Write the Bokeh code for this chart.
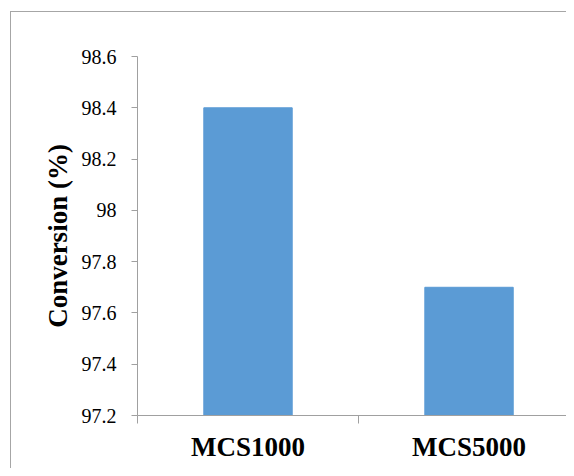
from bokeh.plotting import figure
from bokeh.models import Range1d, FixedTicker, LinearAxis, Label
from bokeh.embed import file_html
from bokeh.resources import INLINE

title_text = "CPS molecular weight"
categories = ["MCS1000", "MCS5000"]
conversion = [98.4, 97.7]
y_ticks = [97.2, 97.4, 97.6, 97.8, 98.0, 98.2, 98.4, 98.6]
y_tick_labels = ["97.2", "97.4", "97.6", "97.8", "98", "98.2", "98.4", "98.6"]

axis_color = "#a0a0a0"
bar_color = "#5B9BD5"
font = "Liberation Serif"

p = figure(width=566, height=468, output_backend="svg", toolbar_location=None,
           x_range=Range1d(0, 1.941), y_range=Range1d(y_ticks[0], y_ticks[-1]),
           min_border_left=137, min_border_top=56, min_border_bottom=53,
           min_border_right=0, x_axis_type=None, y_axis_type=None)
p.outline_line_color = None
p.background_fill_color = "white"
p.border_fill_color = "white"
p.xgrid.visible = False
p.ygrid.visible = False
p.styles = {"position": "relative"}
p.stylesheets = [
    ":host::before { content: ''; position: absolute; left: 10px; top: 11px; "
    "right: 0px; height: 1px; background: #a6a6a6; "
    "pointer-events: none; z-index: 100; }",
    ":host::after { content: ''; position: absolute; left: 10px; top: 11px; "
    "bottom: 0px; width: 1px; background: #a6a6a6; "
    "pointer-events: none; z-index: 100; }",
]

xs = [i + 0.5 for i in range(len(categories))]
p.vbar(x=xs, top=conversion, bottom=y_ticks[0], width=0.4, color=bar_color)

xaxis = LinearAxis(
    ticker=FixedTicker(ticks=xs, minor_ticks=list(range(len(categories) + 1))),
    major_label_overrides={x: c for x, c in zip(xs, categories)},
    major_tick_line_color=None, major_tick_out=0, major_tick_in=0,
    minor_tick_out=8, minor_tick_in=0, minor_tick_line_color=axis_color,
    axis_line_color=axis_color,
    major_label_text_font=font, major_label_text_font_style="bold",
    major_label_text_font_size="27px", major_label_text_color="black",
    major_label_standoff=8)
p.add_layout(xaxis, "below")

yaxis = LinearAxis(
    ticker=FixedTicker(ticks=y_ticks, minor_ticks=[]),
    major_label_overrides=dict(zip(y_ticks, y_tick_labels)),
    major_tick_out=6, major_tick_in=0, major_tick_line_color=axis_color,
    minor_tick_line_color=None, axis_line_color=axis_color,
    major_label_text_font=font, major_label_text_font_size="20px",
    major_label_text_color="black", major_label_standoff=15,
    axis_label="Conversion (%)", axis_label_text_font=font,
    axis_label_text_font_style="bold", axis_label_text_font_size="27px",
    axis_label_text_color="black", axis_label_standoff=6)
p.add_layout(yaxis, "left")

title = Label(x=2, y=6, x_units="canvas", y_units="canvas", text=title_text,
              text_font=font, text_font_style="bold", text_font_size="27px",
              text_color="black", text_baseline="alphabetic", text_align="left")
p.add_layout(title)

open("out.html", "w").write(file_html(p, INLINE))
